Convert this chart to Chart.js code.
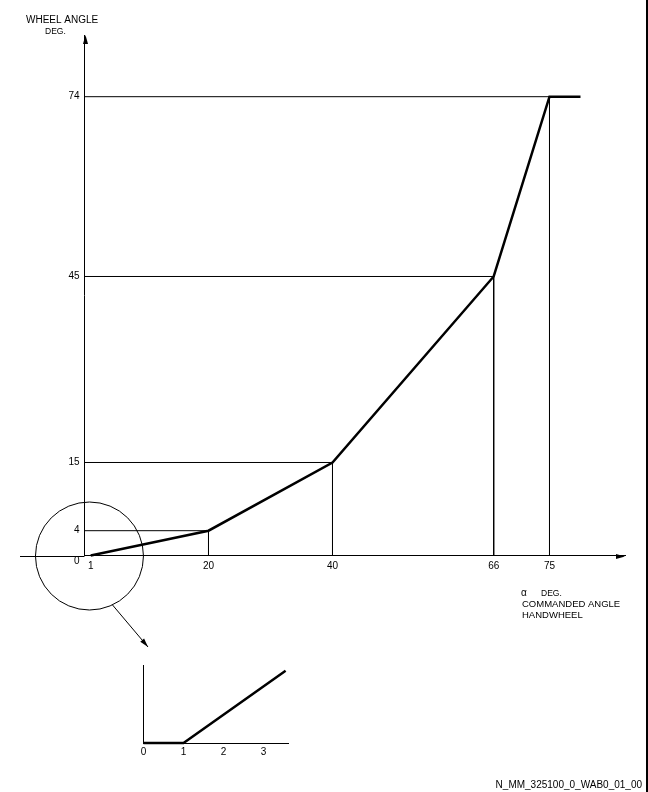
<!DOCTYPE html>
<html>
<head>
<meta charset="utf-8">
<script src="https://cdn.jsdelivr.net/npm/chart.js@4"></script>
<style>
  html, body { margin: 0; padding: 0; background: #fff; }
  #wrap { position: relative; width: 648px; height: 792px; }
  #wrap canvas { position: absolute; left: 0; top: 0; }
</style>
</head>
<body>
<div id="wrap">
  <canvas id="mainChart" width="648" height="792"></canvas>
  <canvas id="insetChart" width="648" height="792"></canvas>
</div>
<script>
// --- data ---
const handwheelAngle = [1, 20, 40, 66, 75, 80];   // alpha, deg
const wheelAngle = [0, 4, 15, 45, 74, 74];        // deg
const guidePoints = [1, 2, 3, 4];                 // indexes that get the thin reference lines
const xTickValues = [1, 20, 40, 66, 75];
const yTickValues = [0, 4, 15, 45, 74];

// zoomed detail near the origin
const insetX = [0, 1, 3.55];
const insetY = [0, 0, 1.85];
const insetTickValues = [0, 1, 2, 3];

const FONT = 'Liberation Sans, Arial, sans-serif';
const INK = '#000';

// thin guides: from y axis over to the point, then down to x axis
const guideSets = guidePoints.map(i => ({
    data: [
        { x: 0, y: wheelAngle[i] },
        { x: handwheelAngle[i], y: wheelAngle[i] },
        { x: handwheelAngle[i], y: 0 }
    ],
    borderColor: INK,
    borderWidth: 1,
    pointRadius: 0,
    tension: 0,
    clip: false
}));

function arrowHead(ctx, x, y, angle, len, half) {
    ctx.save();
    ctx.translate(x, y);
    ctx.rotate(angle);
    ctx.beginPath();
    ctx.moveTo(0, 0);
    ctx.lineTo(-len, -half);
    ctx.lineTo(-len, half);
    ctx.closePath();
    ctx.fill();
    ctx.restore();
}

// arrows, magnifier circle, titles
const decorations = {
    id: 'decorations',
    afterDraw(chart) {
        const { ctx, chartArea, scales } = chart;
        const x0 = scales.x.getPixelForValue(0);
        const y0 = Math.round(scales.y.getPixelForValue(0));
        ctx.save();
        ctx.strokeStyle = INK;
        ctx.fillStyle = INK;
        ctx.lineWidth = 1;

        // x axis runs on past the origin to the left
        ctx.beginPath();
        ctx.moveTo(20, y0 + 0.5);
        ctx.lineTo(x0, y0 + 0.5);
        ctx.stroke();

        arrowHead(ctx, chartArea.right, y0 + 0.5, 0, 9, 2.5);
        arrowHead(ctx, Math.round(x0) + 0.5, chartArea.top, -Math.PI / 2, 9, 2.5);

        // magnifier circle round the origin
        const cx = scales.x.getPixelForValue(0.8);
        const r = 54;
        ctx.beginPath();
        ctx.arc(cx, y0, r, 0, Math.PI * 2);
        ctx.stroke();

        // pointer down to the detail
        const a = Math.atan2(50, 23.5);
        const sx = cx + r * Math.cos(a), sy = y0 + r * Math.sin(a);
        const ex = 148, ey = 647;
        ctx.beginPath();
        ctx.moveTo(sx, sy);
        ctx.lineTo(ex, ey);
        ctx.stroke();
        arrowHead(ctx, ex, ey, Math.atan2(ey - sy, ex - sx), 9, 2.5);

        // texts
        ctx.textBaseline = 'alphabetic';
        ctx.textAlign = 'left';
        ctx.font = '10px ' + FONT;
        ctx.fillText('WHEEL ANGLE', 26, 23);
        ctx.font = '8.5px ' + FONT;
        ctx.fillText('DEG.', 45, 34);

        ctx.font = '10px ' + FONT;
        ctx.fillText('α', 521, 596);
        ctx.font = '8.5px ' + FONT;
        ctx.fillText('DEG.', 541, 596);
        ctx.font = '9.5px ' + FONT;
        ctx.fillText('COMMANDED ANGLE', 522, 607);
        ctx.fillText('HANDWHEEL', 522, 618);

        ctx.font = '10px ' + FONT;
        ctx.textAlign = 'right';
        ctx.fillText('N_MM_325100_0_WAB0_01_00', 642, 788);

        // frame edge on the right
        ctx.fillRect(646, 0, 2, 792);
        ctx.restore();
    }
};

function tickFont() {
    return { family: FONT, size: 10 };
}

// --- main chart ---
new Chart(document.getElementById('mainChart'), {
    type: 'line',
    data: {
        datasets: [{
            data: handwheelAngle.map((v, i) => ({ x: v, y: wheelAngle[i] })),
            borderColor: INK,
            borderWidth: 2.5,
            pointRadius: 0,
            tension: 0,
            clip: false
        }, ...guideSets]
    },
    options: {
        responsive: false,
        animation: false,
        events: [],
        layout: { padding: { left: 24.5, right: 23, top: 35, bottom: 216.5 } },
        plugins: { legend: { display: false }, tooltip: { enabled: false } },
        scales: {
            x: {
                type: 'linear',
                min: 0,
                max: 87.18,
                afterBuildTicks: s => { s.ticks = xTickValues.map(v => ({ value: v })); },
                afterFit: s => { s.height = 20; },
                grid: { display: false, drawTicks: false },
                border: { display: true, color: INK, width: 1 },
                ticks: { color: INK, font: tickFont(), padding: 5, autoSkip: false, maxRotation: 0 }
            },
            y: {
                type: 'linear',
                min: 0,
                max: 83.95,
                afterBuildTicks: s => { s.ticks = yTickValues.map(v => ({ value: v })); },
                afterFit: s => { s.width = 60; },
                grid: { display: false, drawTicks: false },
                border: { display: true, color: INK, width: 1 },
                ticks: {
                    color: INK, font: tickFont(), padding: 5, autoSkip: false,
                    // the zero sits a little under the axis
                    callback: v => v === 0 ? ['', '0'] : String(v)
                }
            }
        }
    },
    plugins: [decorations]
});

// --- inset detail ---
new Chart(document.getElementById('insetChart'), {
    type: 'line',
    data: {
        datasets: [{
            data: insetX.map((v, i) => ({ x: v, y: insetY[i] })),
            borderColor: INK,
            borderWidth: 2.5,
            pointRadius: 0,
            tension: 0,
            clip: false
        }]
    },
    options: {
        responsive: false,
        animation: false,
        events: [],
        layout: { padding: { left: 143.5, right: 360, top: 665, bottom: 29 } },
        plugins: { legend: { display: false }, tooltip: { enabled: false } },
        scales: {
            x: {
                type: 'linear',
                min: 0,
                max: 3.61,
                afterBuildTicks: s => { s.ticks = insetTickValues.map(v => ({ value: v })); },
                afterFit: s => { s.height = 20; },
                grid: { display: false, drawTicks: false },
                border: { display: true, color: INK, width: 1 },
                ticks: { color: INK, font: tickFont(), padding: 3, autoSkip: false, maxRotation: 0 }
            },
            y: {
                type: 'linear',
                min: 0,
                max: 2,
                afterFit: s => { s.width = 0; },
                grid: { display: false, drawTicks: false },
                border: { display: true, color: INK, width: 1 },
                ticks: { display: false }
            }
        }
    }
});
</script>
</body>
</html>
